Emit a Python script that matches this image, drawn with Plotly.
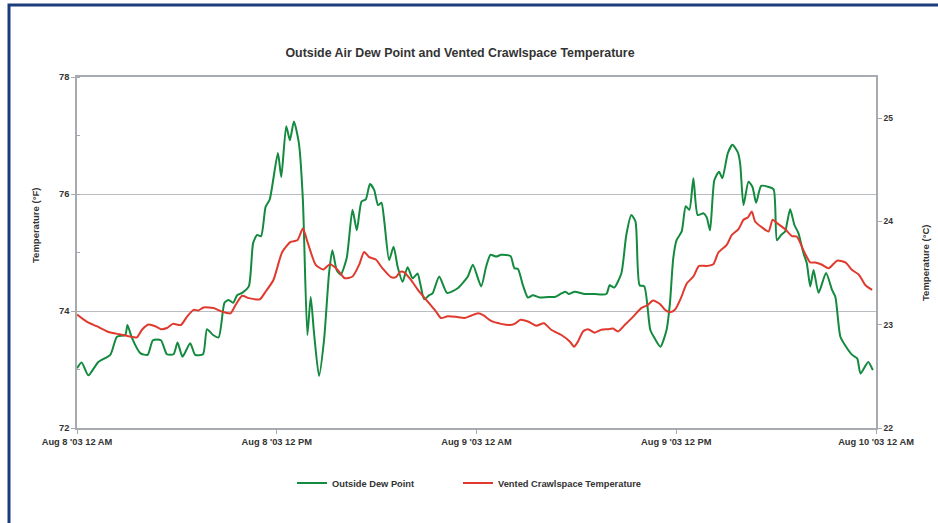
import pandas as pd
import plotly.graph_objects as go

# ---- data (hours after Aug 8 2003 00:00, temperature in °F) ----
dew_hours = [0, 0.28, 0.68, 1.28, 2.0, 2.4, 2.9, 3.03, 3.3, 3.8, 4.24, 4.56, 5.04, 5.4, 5.8, 6.04, 6.34, 6.8,
             7.1, 7.57, 7.81, 8.17, 8.51, 8.86, 9.1, 9.38, 9.62, 9.92, 10.32, 10.58, 10.82, 11.06, 11.33, 11.58,
             12.07, 12.27, 12.57, 12.79, 13.03, 13.33, 13.57, 13.84, 14.04, 14.24, 14.54, 14.84, 15.14, 15.34,
             15.6, 15.84, 16.2, 16.55, 16.81, 17.09, 17.35, 17.6, 17.85, 18.09, 18.29, 18.45, 18.75, 19.02,
             19.26, 19.56, 19.86, 20.16, 20.46, 20.62, 20.86, 21.16, 21.36, 21.76, 22.23, 22.87, 23.48, 23.78,
             24.28, 24.58, 24.84, 25.18, 25.48, 26.04, 26.28, 26.49, 26.79, 27.09, 27.39, 27.79, 28.3, 28.7,
             29.1, 29.34, 29.54, 29.9, 30.5, 31.1, 31.8, 32.0, 32.27, 32.7, 33.0, 33.3, 33.55, 33.8, 34.08,
             34.44, 34.71, 35.05, 35.42, 35.62, 35.82, 36.02, 36.33, 36.57, 36.79, 37.03, 37.29, 37.63, 37.83,
             38.03, 38.29, 38.57, 38.77, 39.1, 39.38, 39.7, 39.84, 40.04, 40.34, 40.58, 40.8, 41.1, 41.55,
             41.85, 42.05, 42.3, 42.54, 42.84, 43.1, 43.34, 43.64, 43.84, 44.05, 44.25, 44.55, 45.0, 45.36,
             45.56, 45.86, 46.2, 46.57, 46.87, 47.07, 47.53, 47.81]
dew_values = [73.02, 73.12, 72.90, 73.13, 73.25, 73.56, 73.59, 73.76, 73.54, 73.28, 73.25, 73.50, 73.50, 73.26,
              73.26, 73.46, 73.22, 73.45, 73.25, 73.26, 73.69, 73.59, 73.55, 74.14, 74.19, 74.14, 74.27, 74.31,
              74.42, 75.16, 75.30, 75.28, 75.78, 75.91, 76.70, 76.29, 77.16, 76.92, 77.24, 76.87, 75.90, 73.59,
              74.24, 73.62, 72.89, 73.50, 74.64, 75.04, 74.70, 74.62, 74.90, 75.73, 75.38, 75.87, 75.91, 76.17,
              76.07, 75.81, 75.85, 75.56, 74.87, 75.10, 74.76, 74.50, 74.75, 74.56, 74.64, 74.47, 74.20, 74.27,
              74.30, 74.59, 74.31, 74.39, 74.59, 74.79, 74.42, 74.76, 74.96, 74.93, 74.96, 74.94, 74.73, 74.72,
              74.44, 74.23, 74.27, 74.23, 74.24, 74.24, 74.30, 74.33, 74.29, 74.33, 74.29, 74.29, 74.29, 74.44,
              74.40, 74.64, 75.30, 75.64, 75.53, 74.44, 74.42, 73.68, 73.53, 73.39, 73.68, 74.13, 74.90, 75.21,
              75.36, 75.79, 75.73, 76.27, 75.64, 75.67, 75.60, 75.38, 76.24, 76.38, 76.27, 76.70, 76.84, 76.71,
              76.52, 75.81, 76.21, 76.12, 75.85, 76.14, 76.12, 76.08, 75.21, 75.30, 75.36, 75.74, 75.47, 75.33,
              74.99, 74.82, 74.42, 74.70, 74.31, 74.65, 74.36, 74.24, 73.56, 73.39, 73.25, 73.19, 72.93, 73.13,
              72.99]

crawl_hours = [0, 0.58, 1.18, 1.89, 2.6, 3.1, 3.6, 3.9, 4.3, 4.7, 5.04, 5.4, 5.76, 6.24, 6.6, 7.0, 7.3, 7.6,
               8.2, 8.71, 9.22, 9.52, 9.92, 10.32, 10.98, 11.33, 11.8, 12.33, 12.83, 13.24, 13.57, 13.87, 14.34,
               14.8, 15.2, 15.64, 16.08, 16.55, 16.95, 17.25, 17.55, 17.95, 18.35, 18.86, 19.16, 19.42, 19.66,
               20.06, 20.56, 21.16, 21.57, 21.87, 22.27, 22.77, 23.27, 23.67, 24.1, 24.4, 24.88, 25.48, 25.98,
               26.28, 26.65, 27.09, 27.59, 28.05, 28.49, 29.1, 29.6, 29.86, 30.1, 30.4, 30.7, 31.1, 31.5, 31.9,
               32.2, 32.5, 32.9, 33.4, 33.9, 34.28, 34.6, 35.02, 35.32, 35.62, 35.92, 36.28, 36.63, 37.03, 37.37,
               37.83, 38.23, 38.53, 39.03, 39.34, 39.74, 40.04, 40.3, 40.54, 40.74, 41.1, 41.55, 41.79, 42.11,
               42.54, 42.95, 43.25, 43.64, 44.05, 44.35, 44.76, 45.16, 45.66, 46.16, 46.57, 46.97, 47.37, 47.77]
crawl_values = [73.94, 73.82, 73.74, 73.64, 73.60, 73.57, 73.55, 73.68, 73.77, 73.74, 73.69, 73.71, 73.78,
                73.76, 73.90, 74.02, 74.01, 74.06, 74.05, 73.99, 73.96, 74.10, 74.26, 74.22, 74.20, 74.33,
                74.53, 75.01, 75.18, 75.21, 75.41, 75.16, 74.79, 74.71, 74.80, 74.71, 74.56, 74.59, 74.79,
                75.01, 74.92, 74.88, 74.73, 74.58, 74.58, 74.67, 74.66, 74.53, 74.33, 74.13, 73.99, 73.88,
                73.91, 73.90, 73.88, 73.92, 73.96, 73.93, 73.83, 73.78, 73.76, 73.78, 73.85, 73.82, 73.75,
                73.79, 73.68, 73.59, 73.48, 73.39, 73.48, 73.65, 73.69, 73.63, 73.68, 73.69, 73.70, 73.65,
                73.76, 73.90, 74.05, 74.10, 74.18, 74.12, 74.02, 73.98, 74.02, 74.22, 74.47, 74.59, 74.77,
                74.77, 74.80, 75.00, 75.13, 75.30, 75.40, 75.56, 75.60, 75.70, 75.53, 75.44, 75.36, 75.56,
                75.49, 75.40, 75.28, 75.27, 75.04, 74.83, 74.83, 74.79, 74.73, 74.86, 74.83, 74.70, 74.62,
                74.44, 74.36]

x_tick_values = ["2003-08-08 00:00", "2003-08-08 12:00", "2003-08-09 00:00", "2003-08-09 12:00", "2003-08-10 00:00"]
x_tick_labels = ["Aug 8 '03 12 AM", "Aug 8 '03 12 PM", "Aug 9 '03 12 AM", "Aug 9 '03 12 PM", "Aug 10 '03 12 AM"]
f_ticks = [72, 74, 76, 78]
c_ticks = [22, 23, 24, 25]

start = pd.Timestamp("2003-08-08 00:00")
dew_time = [start + pd.Timedelta(hours=h) for h in dew_hours]
crawl_time = [start + pd.Timedelta(hours=h) for h in crawl_hours]

FONT = "Liberation Sans, Arial, sans-serif"
GRID = "#b9bdc1"
AXIS = "#a7abb0"
TXT = "#333333"

W, H = 938, 523
ML, MR, MT, MB = 77, 62, 77, 95
pw, ph = W - ML - MR, H - MT - MB

fig = go.Figure()
fig.add_trace(go.Scatter(x=dew_time, y=dew_values, mode="lines", name="Outside Dew Point",
                         legend="legend",
                         line=dict(color="#138a3e", width=2, shape="spline", smoothing=0.6)))
fig.add_trace(go.Scatter(x=crawl_time, y=crawl_values, mode="lines", name="Vented Crawlspace Temperature",
                         legend="legend2",
                         line=dict(color="#e0392d", width=2, shape="spline", smoothing=0.6)))
fig.add_trace(go.Scatter(x=[], y=[], yaxis="y2", showlegend=False, hoverinfo="skip"))

def px_x(p):
    return (p - ML) / pw

def px_y(p):
    return (H - MB - p) / ph

TICKF = dict(family=FONT, size=9.3, color=TXT, weight="bold")
LEGF = dict(family=FONT, size=9.3, color=TXT, weight="bold")

fig.update_layout(
    width=W, height=H,
    margin=dict(l=ML, r=MR, t=MT, b=MB),
    paper_bgcolor="white", plot_bgcolor="white",
    font=dict(family=FONT, color=TXT, size=9.3, weight="bold"),
    title=dict(text="Outside Air Dew Point and Vented Crawlspace Temperature",
               x=460 / W, xanchor="center", xref="container",
               y=1 - 53 / H, yanchor="middle", yref="container",
               font=dict(family=FONT, size=12.4, color=TXT, weight="bold")),
    xaxis=dict(type="date", range=[x_tick_values[0], x_tick_values[-1]],
               tickvals=x_tick_values, ticktext=x_tick_labels,
               showgrid=False, showline=True, mirror=True, linecolor=AXIS, linewidth=1.5,
               ticks="outside", ticklen=4, tickcolor=AXIS, zeroline=False, tickfont=TICKF),
    yaxis=dict(range=[72, 78], tickvals=f_ticks, showgrid=True, gridcolor=GRID, gridwidth=1.3,
               showline=True, linecolor=AXIS, linewidth=1.5, ticks="outside", ticklen=4,
               tickcolor=AXIS, zeroline=False,
               minor=dict(dtick=1, tick0=72, ticks="inside", ticklen=3, tickcolor=AXIS, showgrid=False),
               tickfont=TICKF),
    yaxis2=dict(range=[22, 22 + (H - MB - MT) / 103.3], tickvals=c_ticks, overlaying="y", side="right",
                showgrid=False, showline=True, linecolor=AXIS, linewidth=1.5, ticks="outside",
                ticklen=4, tickcolor=AXIS, zeroline=False,
                tickfont=dict(family=FONT, size=8.5, color=TXT, weight="bold")),
    legend=dict(orientation="h", x=px_x(292), xanchor="left", y=px_y(483), yanchor="middle",
                itemwidth=30, font=LEGF, bgcolor="rgba(0,0,0,0)"),
    legend2=dict(orientation="h", x=px_x(458), xanchor="left", y=px_y(483), yanchor="middle",
                 itemwidth=30, font=LEGF, bgcolor="rgba(0,0,0,0)"),
    showlegend=True,
    hovermode=False,
    shapes=[dict(type="rect", xref="paper", yref="paper",
                 x0=px_x(9), x1=px_x(945), y0=px_y(530), y1=px_y(5),
                 line=dict(color="#1c3c7c", width=3), fillcolor="rgba(0,0,0,0)", layer="below")],
    annotations=[
        dict(text="Temperature (°F)", textangle=-90, xref="paper", yref="paper",
             x=px_x(35), y=px_y(226), xanchor="center", yanchor="middle", showarrow=False,
             font=dict(family=FONT, size=9.5, color=TXT, weight="bold")),
        dict(text="Temperature (°C)", textangle=-90, xref="paper", yref="paper",
             x=px_x(925), y=px_y(263), xanchor="center", yanchor="middle", showarrow=False,
             font=dict(family=FONT, size=9.5, color=TXT, weight="bold")),
    ],
)

fig.write_html("out.html", config={"displayModeBar": False},
               post_script="document.body.style.margin='0';document.body.style.padding='0';")
